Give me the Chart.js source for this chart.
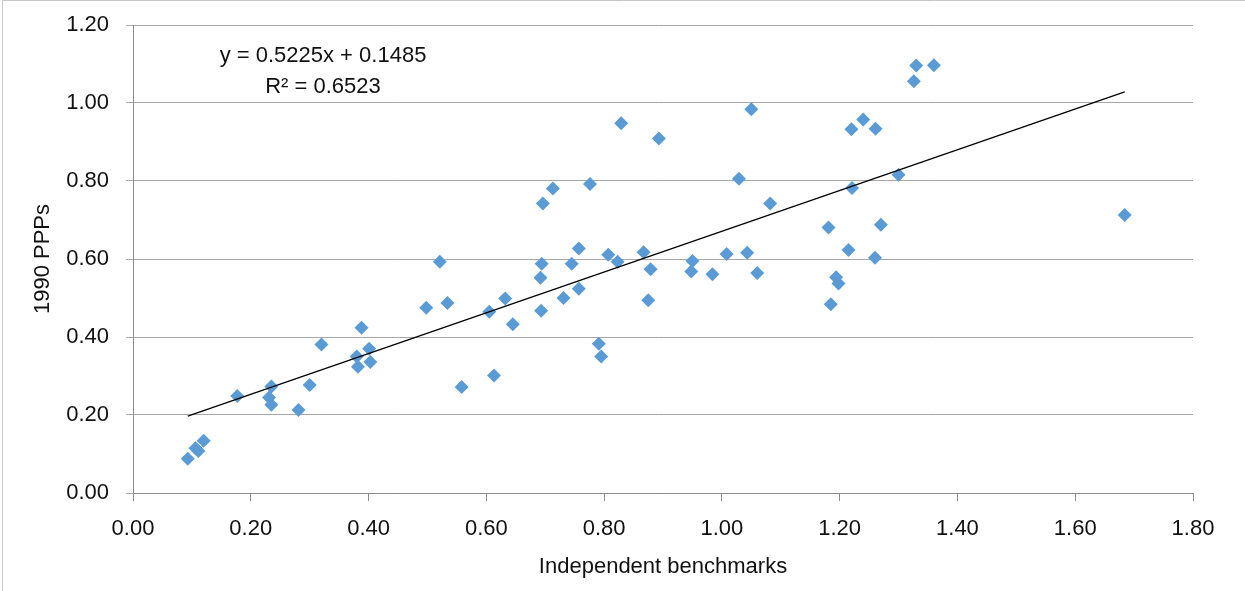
<!DOCTYPE html>
<html>
<head>
<meta charset="utf-8">
<script src="https://cdn.jsdelivr.net/npm/chart.js@4/dist/chart.umd.min.js"></script>
<style>
html,body{margin:0;padding:0;background:#fff;}
#wrap{width:1245px;height:591px;position:relative;}
</style>
</head>
<body>
<div id="wrap"><canvas id="c" width="1245" height="591"></canvas></div>
<script>
// Independent benchmarks (x) vs 1990 PPPs (y)
const benchX = [0.093,0.106,0.111,0.120,0.177,0.235,0.231,0.235,0.281,0.300,
  0.320,0.388,0.380,0.401,0.382,0.403,0.498,0.521,0.534,0.558,
  0.605,0.613,0.632,0.645,0.696,0.713,0.694,0.692,0.693,0.731,
  0.745,0.757,0.757,0.776,0.791,0.795,0.807,0.823,0.829,0.867,
  0.879,0.875,0.893,0.950,0.948,0.984,1.008,1.043,1.060,1.029,
  1.050,1.082,1.330,1.360,1.326,1.220,1.240,1.261,1.300,1.221,
  1.181,1.270,1.215,1.260,1.194,1.198,1.185,1.684];
const pppY = [0.088,0.115,0.108,0.134,0.249,0.273,0.245,0.226,0.213,0.277,
  0.381,0.424,0.350,0.370,0.324,0.336,0.475,0.593,0.487,0.272,
  0.465,0.301,0.499,0.433,0.742,0.781,0.588,0.552,0.467,0.500,
  0.588,0.627,0.524,0.792,0.383,0.350,0.611,0.593,0.948,0.617,
  0.574,0.494,0.909,0.595,0.568,0.561,0.613,0.616,0.564,0.806,
  0.984,0.742,1.096,1.097,1.056,0.933,0.958,0.934,0.816,0.782,
  0.681,0.688,0.623,0.603,0.553,0.537,0.484,0.713];
// Trend line from the displayed equation
const trendSlope = 0.5225;
const trendIntercept = 0.1485;
const trendR2 = 0.6523;
const trendXRange = [0.093, 1.684];
const xTicks = [0,0.2,0.4,0.6,0.8,1.0,1.2,1.4,1.6,1.8];
const yTicks = [0,0.2,0.4,0.6,0.8,1.0,1.2];
const xTitle = 'Independent benchmarks';
const yTitle = '1990 PPPs';
const eqLine1 = 'y = ' + trendSlope.toFixed(4) + 'x + ' + trendIntercept.toFixed(4);
const eqLine2 = 'R\u00B2 = ' + trendR2.toFixed(4);

const FONT = "'Liberation Sans', Arial, sans-serif";
const FS = 22;
const scatterData = benchX.map((x,i)=>({x:x, y:pppY[i]}));
const trendData = trendXRange.map(x=>({x:x, y:trendSlope*x+trendIntercept}));

const decor = {
  id:'decor',
  beforeDraw(chart){
    const ctx = chart.ctx;
    ctx.save();
    ctx.fillStyle = '#fff';
    ctx.fillRect(0,0,chart.width,chart.height);
    ctx.strokeStyle = '#c8c8c8';
    ctx.lineWidth = 1;
    ctx.beginPath();
    ctx.moveTo(2.5, chart.height);
    ctx.lineTo(2.5, 0.5);
    ctx.lineTo(chart.width, 0.5);
    ctx.stroke();
    ctx.restore();
  },
  afterDraw(chart){
    const ctx = chart.ctx;
    const a = chart.chartArea;
    ctx.save();
    ctx.fillStyle = '#111';
    ctx.font = FS + 'px ' + FONT;
    ctx.textAlign = 'center';
    ctx.textBaseline = 'middle';
    const cx = a.left + 190;
    ctx.fillText(eqLine1, cx, a.top + 31);
    ctx.fillText(eqLine2, cx, a.top + 62);
    ctx.restore();
  }
};

new Chart(document.getElementById('c'), {
  type:'scatter',
  data:{
    datasets:[
      {
        label:'PPPs',
        data:scatterData,
        pointStyle:'rectRot',
        pointRadius:7,
        pointHoverRadius:7,
        backgroundColor:'#5B9BD5',
        borderColor:'#5B9BD5',
        borderWidth:0,
        order:1
      },
      {
        label:'Trend',
        type:'line',
        data:trendData,
        showLine:true,
        borderColor:'#000',
        borderWidth:1.3,
        pointRadius:0,
        fill:false,
        order:0
      }
    ]
  },
  options:{
    responsive:false,
    animation:false,
    devicePixelRatio:1,
    layout:{padding:{left:0,top:25,right:52,bottom:0}},
    plugins:{legend:{display:false},tooltip:{enabled:false}},
    scales:{
      x:{
        type:'linear',
        min:0, max:1.8,
        afterBuildTicks(s){ s.ticks = xTicks.map(v=>({value:v})); },
        afterFit(s){ s.height = 98; s.paddingTop = 0; s.paddingBottom = 0; s.paddingLeft = 0; s.paddingRight = 0; },
        ticks:{
          callback:(v)=>Number(v).toFixed(2),
          font:{family:FONT,size:FS},
          color:'#111',
          padding:15,
          maxRotation:0,
          autoSkip:false
        },
        grid:{drawOnChartArea:false, drawTicks:true, tickLength:8, color:'#8c8c8c', lineWidth:1},
        border:{color:'#8c8c8c', width:1},
        title:{display:true, text:xTitle, font:{family:FONT,size:FS}, color:'#111', padding:{top:0,bottom:11}}
      },
      y:{
        type:'linear',
        min:0, max:1.2,
        afterBuildTicks(s){ s.ticks = yTicks.map(v=>({value:v})); },
        afterFit(s){ s.width = 133; s.paddingTop = 0; s.paddingBottom = 0; s.paddingLeft = 0; s.paddingRight = 0; },
        ticks:{
          callback:(v)=>Number(v).toFixed(2),
          font:{family:FONT,size:FS},
          color:'#111',
          padding:17
        },
        grid:{drawOnChartArea:true, drawTicks:true, tickLength:7, color:'#a8a8a8', lineWidth:1},
        border:{color:'#8c8c8c', width:1},
        title:{display:true, text:yTitle, font:{family:FONT,size:FS}, color:'#111', padding:{top:30,bottom:0}}
      }
    }
  },
  plugins:[decor]
});
</script>
</body>
</html>
